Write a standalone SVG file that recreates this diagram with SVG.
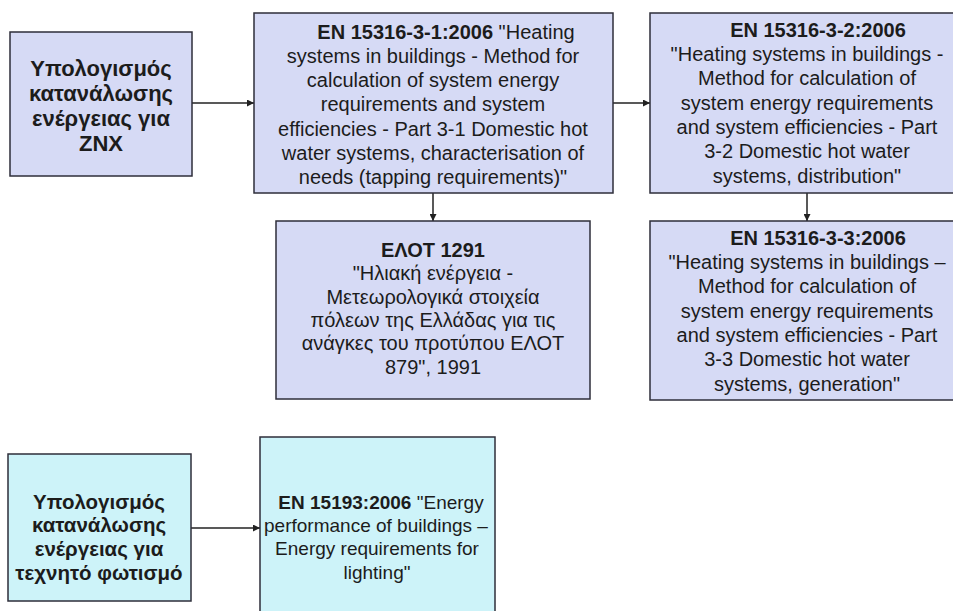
<svg xmlns="http://www.w3.org/2000/svg" width="953" height="611" viewBox="0 0 953 611">
<defs>
<style>
.box{fill:#d6daf5;stroke:#2e2e3a;stroke-width:1.5}
.cy{fill:#cdf3f9;stroke:#2e2e3a;stroke-width:1.5}
.t{font-family:"Liberation Sans",Arial,sans-serif;font-size:20px;fill:#1c1c1c;text-anchor:middle}
.s{font-size:19px}
.b{font-weight:bold}
.h{font-family:"Liberation Sans",Arial,sans-serif;font-size:20px;font-weight:bold;fill:#1c1c1c;text-anchor:middle}
.h1{font-size:22px}
.h6{font-size:20.5px}
.c{stroke:#222;stroke-width:1.5;fill:none;marker-end:url(#ah)}
</style>
<marker id="ah" viewBox="0 0 10 10" refX="10" refY="5" markerWidth="7" markerHeight="7" markerUnits="userSpaceOnUse" orient="auto">
<path d="M0,0 L10,5 L0,10 z" fill="#222"/>
</marker>
</defs>
<rect width="953" height="611" fill="#ffffff"/>
<g id="connectors">
<line class="c" x1="192" y1="103" x2="254" y2="103"/>
<line class="c" x1="613" y1="103" x2="650" y2="103"/>
<line class="c" x1="433" y1="193" x2="433" y2="221"/>
<line class="c" x1="807" y1="193" x2="807" y2="221"/>
<line class="c" x1="191" y1="528" x2="260" y2="528"/>
</g>
<g id="znx">
<rect class="box" x="10" y="32" width="182" height="144"/>
<text class="h h1" x="101" y="76">Υπολογισμός</text>
<text class="h h1" x="101" y="101">κατανάλωσης</text>
<text class="h h1" x="101" y="126">ενέργειας για</text>
<text class="h h1" x="101" y="151">ZNX</text>
</g>
<g id="en15316-3-1">
<rect class="box" x="254" y="13" width="359" height="180"/>
<text class="t" x="446" y="39"><tspan class="b">EN 15316-3-1:2006</tspan> "Heating</text>
<text class="t" x="433" y="63">systems in buildings - Method for</text>
<text class="t" x="433" y="87">calculation of system energy</text>
<text class="t" x="433" y="111">requirements and system</text>
<text class="t" x="433" y="136">efficiencies - Part 3-1 Domestic hot</text>
<text class="t" x="433" y="160">water systems, characterisation of</text>
<text class="t" x="433" y="184">needs (tapping requirements)"</text>
</g>
<g id="en15316-3-2">
<rect class="box" x="650" y="13" width="315" height="180"/>
<text class="h" x="818" y="37">EN 15316-3-2:2006</text>
<text class="t" x="807" y="61">"Heating systems in buildings -</text>
<text class="t" x="807" y="85">Method for calculation of</text>
<text class="t" x="807" y="110">system energy requirements</text>
<text class="t" x="807" y="134">and system efficiencies - Part</text>
<text class="t" x="807" y="158">3-2 Domestic hot water</text>
<text class="t" x="807" y="183">systems, distribution"</text>
</g>
<g id="elot1291">
<rect class="box" x="276" y="221" width="314" height="178"/>
<text class="h" x="433" y="257">ΕΛΟΤ 1291</text>
<text class="t" x="433" y="280">"Ηλιακή ενέργεια -</text>
<text class="t" x="433" y="304">Μετεωρολογικά στοιχεία</text>
<text class="t" x="433" y="327">πόλεων της Ελλάδας για τις</text>
<text class="t" x="433" y="350">ανάγκες του προτύπου ΕΛΟΤ</text>
<text class="t" x="433" y="374">879", 1991</text>
</g>
<g id="en15316-3-3">
<rect class="box" x="650" y="221" width="315" height="179"/>
<text class="h" x="818" y="245">EN 15316-3-3:2006</text>
<text class="t" x="807" y="269">"Heating systems in buildings –</text>
<text class="t" x="807" y="293">Method for calculation of</text>
<text class="t" x="807" y="318">system energy requirements</text>
<text class="t" x="807" y="342">and system efficiencies - Part</text>
<text class="t" x="807" y="366">3-3 Domestic hot water</text>
<text class="t" x="807" y="391">systems, generation"</text>
</g>
<g id="lighting">
<rect class="cy" x="8" y="454" width="183" height="147"/>
<text class="h h6" x="99" y="509">Υπολογισμός</text>
<text class="h h6" x="99" y="532">κατανάλωσης</text>
<text class="h h6" x="99" y="556">ενέργειας για</text>
<text class="h h6" x="99" y="580">τεχνητό φωτισμό</text>
</g>
<g id="en15193">
<rect class="cy" x="260" y="437" width="235" height="190"/>
<text class="t s" x="381" y="509"><tspan class="b">EN 15193:2006</tspan> "Energy</text>
<text class="t s" x="376" y="532">performance of buildings –</text>
<text class="t s" x="377" y="555">Energy requirements for</text>
<text class="t s" x="377" y="579">lighting"</text>
</g>
</svg>
